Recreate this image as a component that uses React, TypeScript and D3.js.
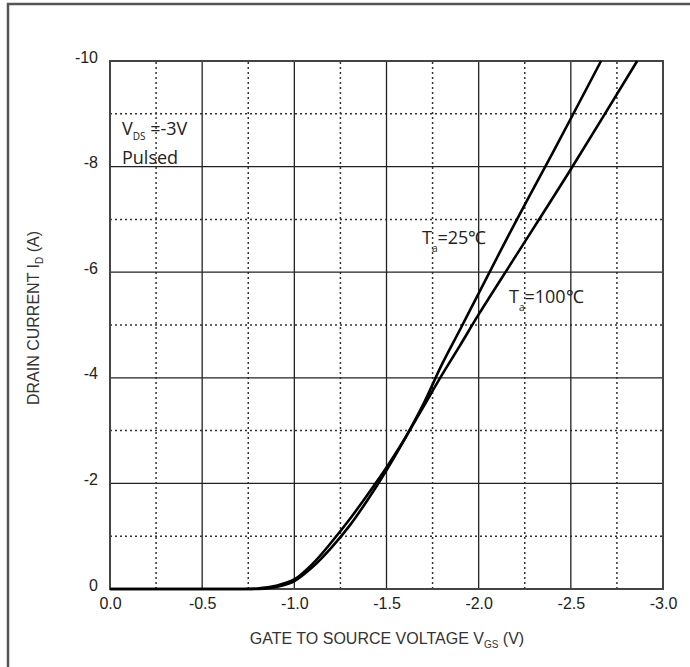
import React, { useEffect, useRef } from "react";
import * as d3 from "d3";

// x axis: gate to source voltage (V), y axis: drain current (A)
const xMajor = [0, -0.5, -1.0, -1.5, -2.0, -2.5, -3.0];
const xMinor = [-0.25, -0.75, -1.25, -1.75, -2.25, -2.75];
const yMajor = [0, -2, -4, -6, -8, -10];
const yMinor = [-1, -3, -5, -7, -9];

// Ta = 25°C
const vgs25 = [0, -0.5, -0.75, -0.85, -0.92, -1.0, -1.1, -1.2, -1.3, -1.4, -1.5, -1.6, -1.7, -1.8, -1.9, -2.0, -2.2, -2.4, -2.664];
const id25 = [0, 0, 0, -0.01, -0.05, -0.15, -0.42, -0.78, -1.2, -1.7, -2.25, -2.85, -3.5, -4.25, -4.92, -5.6, -6.95, -8.25, -10.0];

// Ta = 100°C
const vgs100 = [0, -0.5, -0.7, -0.8, -0.9, -1.0, -1.1, -1.2, -1.3, -1.4, -1.5, -1.6, -1.7, -1.8, -1.9, -2.0, -2.2, -2.5, -2.86];
const id100 = [0, 0, 0, -0.01, -0.06, -0.18, -0.48, -0.88, -1.32, -1.8, -2.3, -2.85, -3.45, -4.05, -4.62, -5.2, -6.3, -7.95, -10.0];

const App = () => {
  const svgRef = useRef<SVGSVGElement>(null);

  useEffect(() => {
    const w = 690;
    const h = 667;
    const svg = d3.select(svgRef.current).attr("width", w).attr("height", h);
    svg.selectAll("*").remove();

    const x = d3.scaleLinear().domain([0, -3]).range([110, 663]);
    const y = d3.scaleLinear().domain([0, -10]).range([589, 61]);

    // outer frame
    svg.append("rect")
      .attr("x", 8).attr("y", 4).attr("width", 700).attr("height", 700)
      .attr("fill", "none").attr("stroke", "#555").attr("stroke-width", 2.5);

    const grid = svg.append("g");
    // dotted minor grid
    grid.selectAll(".vminor").data(xMinor).join("line")
      .attr("x1", d => x(d)).attr("x2", d => x(d)).attr("y1", y(0)).attr("y2", y(-10))
      .attr("stroke", "#333").attr("stroke-width", 1.5).attr("stroke-dasharray", "2,3");
    grid.selectAll(".hminor").data(yMinor).join("line")
      .attr("y1", d => y(d)).attr("y2", d => y(d)).attr("x1", x(0)).attr("x2", x(-3))
      .attr("stroke", "#333").attr("stroke-width", 1.5).attr("stroke-dasharray", "2,3");
    // solid major grid
    grid.selectAll(".vmajor").data(xMajor).join("line")
      .attr("x1", d => x(d)).attr("x2", d => x(d)).attr("y1", y(0)).attr("y2", y(-10))
      .attr("stroke", "#222").attr("stroke-width", 1.3);
    grid.selectAll(".hmajor").data(yMajor).join("line")
      .attr("y1", d => y(d)).attr("y2", d => y(d)).attr("x1", x(0)).attr("x2", x(-3))
      .attr("stroke", "#222").attr("stroke-width", 1.3);

    // plot border
    svg.append("rect")
      .attr("x", x(0)).attr("y", y(-10)).attr("width", x(-3) - x(0)).attr("height", y(0) - y(-10))
      .attr("fill", "none").attr("stroke", "#444").attr("stroke-width", 2);

    // axes (labels only)
    const axisFont = "Liberation Sans, Arial, sans-serif";
    const xAxis = svg.append("g")
      .attr("transform", `translate(0, ${y(0) + 6})`)
      .call(d3.axisBottom(x).tickValues(xMajor).tickSize(0).tickFormat(d => (+d).toFixed(1)));
    xAxis.select(".domain").remove();
    xAxis.selectAll("text")
      .attr("font-family", axisFont).attr("font-size", 16).attr("fill", "#222");

    const yAxis = svg.append("g")
      .attr("transform", `translate(${x(0) - 9}, -4)`)
      .call(d3.axisLeft(y).tickValues(yMajor).tickSize(0).tickFormat(d => String(d)));
    yAxis.select(".domain").remove();
    yAxis.selectAll("text")
      .attr("font-family", axisFont).attr("font-size", 16).attr("fill", "#222");

    // curves
    const line = d3.line<[number, number]>()
      .x(d => x(d[0])).y(d => y(d[1]))
      .curve(d3.curveCatmullRom.alpha(0.5));
    const series = [
      vgs25.map((v, i) => [v, id25[i]] as [number, number]),
      vgs100.map((v, i) => [v, id100[i]] as [number, number]),
    ];
    svg.selectAll(".curve").data(series).join("path")
      .attr("d", d => line(d))
      .attr("fill", "none").attr("stroke", "#000").attr("stroke-width", 2.6);

    // axis titles
    const xt = svg.append("text")
      .attr("x", 387).attr("y", 644).attr("text-anchor", "middle")
      .attr("font-family", axisFont).attr("font-size", 16).attr("fill", "#333");
    xt.append("tspan").text("GATE TO SOURCE VOLTAGE V");
    xt.append("tspan").attr("font-size", 10).attr("dy", 4).text("GS");
    xt.append("tspan").attr("dy", -4).text(" (V)");

    const yt = svg.append("text")
      .attr("transform", "translate(39, 318) rotate(-90)").attr("text-anchor", "middle")
      .attr("font-family", axisFont).attr("font-size", 16).attr("fill", "#333");
    yt.append("tspan").text("DRAIN CURRENT I");
    yt.append("tspan").attr("font-size", 10).attr("dy", 4).text("D");
    yt.append("tspan").attr("dy", -4).text(" (A)");

    // annotations
    const annFont = "Open Sans, Lato, sans-serif";
    const vds = svg.append("text").attr("x", 122).attr("y", 135)
      .attr("font-family", annFont).attr("font-size", 18).attr("fill", "#222");
    vds.append("tspan").text("V");
    vds.append("tspan").attr("font-size", 10).attr("dy", 5).text("DS");
    vds.append("tspan").attr("dy", -5).text(" =-3V");
    svg.append("text").attr("x", 122).attr("y", 164)
      .attr("font-family", annFont).attr("font-size", 18).attr("fill", "#222").text("Pulsed");

    const t25 = svg.append("text").attr("x", 422).attr("y", 244)
      .attr("font-family", annFont).attr("font-size", 18).attr("fill", "#222");
    t25.append("tspan").text("T");
    t25.append("tspan").attr("font-size", 10).attr("dy", 8).text("a");
    t25.append("tspan").attr("dy", -8).text("=25℃");

    const t100 = svg.append("text").attr("x", 509).attr("y", 303)
      .attr("font-family", annFont).attr("font-size", 18).attr("fill", "#222");
    t100.append("tspan").text("T");
    t100.append("tspan").attr("font-size", 10).attr("dy", 8).text("a");
    t100.append("tspan").attr("dy", -8).text("=100℃");
  }, []);

  return <svg ref={svgRef} style={{ position: "absolute", left: 0, top: 0, background: "#fff" }}></svg>;
};

export default App;
